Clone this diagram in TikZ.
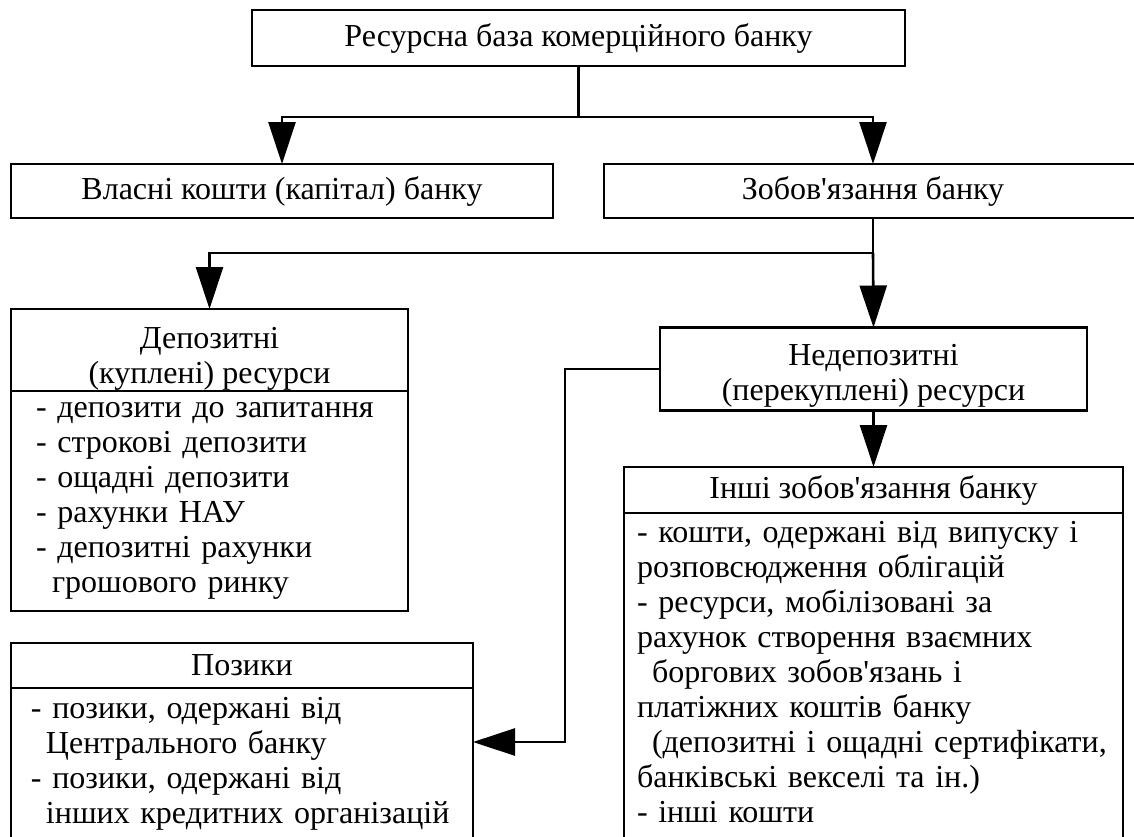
\documentclass[tikz,border=0pt]{standalone}
\usepackage{fontspec}
\setmainfont{Liberation Serif}
\usetikzlibrary{arrows.meta,positioning}

\begin{document}
\begin{tikzpicture}[x=0.5pt,y=-0.5pt,
    box/.style={draw, line width=1.3pt, inner sep=0pt, outer sep=0pt, align=center, font=\fontsize{16}{17.5}\selectfont},
    list/.style={draw, line width=1.3pt, inner ysep=0pt, outer sep=0pt, align=left, font=\fontsize{16}{17.5}\selectfont},
    arr/.style={line width=1.3pt, -{Triangle[length=21pt,width=13.5pt]}}]
    \useasboundingbox (0,0) rectangle (1134,836);

    \node[box, minimum width=326.5pt, minimum height=28pt] (base) at (578.5,38) {Ресурсна база комерційного банку};
    \node[box, minimum width=271pt, minimum height=27pt] (own) at (282,191) {Власні кошти (капітал) банку};
    \node[box, minimum width=269pt, minimum height=27pt] (liab) at (873,191) {Зобов\textquotesingle язання банку};

    \node[box, minimum width=198.5pt, minimum height=41pt] (dep) at (209.5,350) {\rule{0pt}{19pt}Депозитні\\(куплені) ресурси};
    \node[list, below=0pt of dep, minimum height=110pt, text width=173.5pt, inner xsep=12.5pt] (deplist)
        {- депозити до запитання\\- строкові депозити\\- ощадні депозити\\- рахунки НАУ\\- депозитні рахунки\\\hspace*{8pt}грошового ринку};

    \node[box, minimum width=213.5pt, minimum height=41.5pt] (nondep) at (873.5,369) {\rule{0pt}{17pt}Недепозитні\\(перекуплені) ресурси};

    \node[box, minimum width=249.5pt, minimum height=23pt] (other) at (873.5,490) {Інші зобов\textquotesingle язання банку};
    \node[list, below=0pt of other, minimum height=170pt, text width=236.5pt, inner xsep=6.5pt] (otherlist)
        {- кошти, одержані від випуску і\\розповсюдження облігацій\\- ресурси, мобілізовані за\\рахунок створення взаємних\\\hspace*{7.5pt}боргових зобов\textquotesingle язань і\\платіжних коштів банку\\\hspace*{7.5pt}(депозитні і ощадні сертифікати,\\банківські векселі та ін.)\\- інші кошти\vspace*{10.5pt}};

    \node[box, minimum width=231pt, minimum height=22.5pt] (loan) at (242,665.5) {Позики};
    \node[list, below=0pt of loan, minimum height=76pt, text width=211pt, inner xsep=10pt] (loanlist)
        {- позики, одержані від\\\hspace*{7.5pt}Центрального банку\\- позики, одержані від\\\hspace*{7.5pt}інших кредитних організацій};

    \coordinate (j1) at (578.5,117);
    \coordinate (j2) at (873,253);
    \coordinate (j3) at (565,742);

    \draw[line width=1.3pt] (base.south) -- (j1);
    \draw[arr] (j1) -| (own.north);
    \draw[arr] (j1) -| (liab.north);

    \draw[line width=1.3pt] (liab.south) -- (j2);
    \draw[arr] (j2) -| (dep.north);
    \draw[arr] (j2) -- (nondep.north);
    \draw[arr] (nondep.south) -- (other.north);

    \draw[arr] (nondep.west) -| (j3) -- (loanlist.east |- j3);
\end{tikzpicture}
\end{document}
